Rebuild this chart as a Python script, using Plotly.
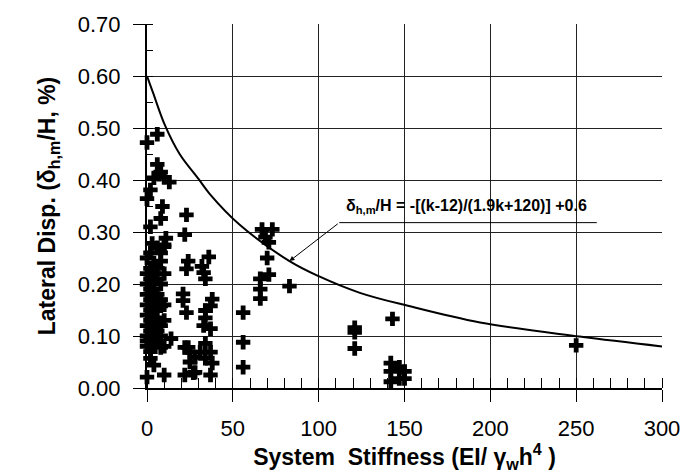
import plotly.graph_objects as go

# ---- scatter data (system stiffness k, lateral displacement %) ----
stiff = [
    6, 0, 6, 4, 7, 10, 13, 8, 2, 0, 9, 8, 23, 2, 22, 3, 11, 10,
    0, 0, 0, 0, 0, 0, 0, 0, 0, 0, 0,
    2, 2, 2, 2, 2, 2, 2, 2, 2, 2, 2,
    4, 4, 4, 4, 4, 4, 4, 4, 4, 4,
    6, 6, 6, 6, 6, 6, 6, 6,
    8, 8, 8, 8, 8, 8, 8, 8,
    10, 10, 10, 10, 10, 10, 14,
    24, 23, 32, 33, 34, 36, 21, 21, 23,
    38, 37, 34, 34, 33, 37,
    34, 31, 37, 28, 34, 38, 28, 37, 25, 25,
    24, 22, 27, 22,
    56, 56, 56,
    67, 73, 69, 71, 70, 71, 66, 66, 66, 83,
    121, 121, 121, 143,
    142, 142, 142, 147, 147, 150, 150,
    250,
]
disp = [
    0.488, 0.472, 0.43, 0.404, 0.411, 0.405, 0.396, 0.415, 0.381, 0.364, 0.349, 0.326, 0.333, 0.31, 0.295, 0.278, 0.288, 0.272,
    0.25, 0.22, 0.20, 0.18, 0.16, 0.14, 0.12, 0.10, 0.09, 0.08, 0.021,
    0.26, 0.23, 0.21, 0.19, 0.17, 0.15, 0.13, 0.11, 0.095, 0.07, 0.057,
    0.24, 0.22, 0.205, 0.19, 0.17, 0.15, 0.12, 0.10, 0.085, 0.044,
    0.27, 0.23, 0.21, 0.18, 0.16, 0.135, 0.11, 0.09,
    0.26, 0.244, 0.20, 0.17, 0.158, 0.12, 0.10, 0.078,
    0.275, 0.22, 0.16, 0.13, 0.08, 0.025, 0.095,
    0.244, 0.229, 0.234, 0.222, 0.21, 0.252, 0.181, 0.168, 0.145,
    0.171, 0.158, 0.149, 0.135, 0.12, 0.114,
    0.086, 0.069, 0.069, 0.059, 0.057, 0.048, 0.03, 0.025, 0.069, 0.05,
    0.078, 0.025, 0.029, 0.078,
    0.145, 0.088, 0.04,
    0.305, 0.305, 0.29, 0.28, 0.25, 0.218, 0.21, 0.19, 0.172, 0.196,
    0.116, 0.107, 0.076, 0.133,
    0.048, 0.032, 0.012, 0.04, 0.018, 0.032, 0.018,
    0.082,
]

# ---- envelope curve as drawn ----
curve_k = [0, 3.5, 10.5, 19, 30, 36.6, 54, 83, 100, 124, 152, 194, 252, 300]
curve_v = [0.60, 0.568, 0.505, 0.45, 0.402, 0.373, 0.314, 0.244, 0.215, 0.183, 0.158, 0.126, 0.099, 0.080]

FONT = "Liberation Sans, Arial, sans-serif"

fig = go.Figure()
fig.add_trace(go.Scatter(
    x=curve_k, y=curve_v, mode="lines", line=dict(color="black", width=2, shape="spline"),
    hoverinfo="skip", showlegend=False,
))
fig.add_trace(go.Scatter(
    x=stiff, y=disp, mode="markers",
    marker=dict(symbol="cross", size=12, color="black", line=dict(width=0)),
    cliponaxis=False, showlegend=False,
))

# leader line with arrow
fig.add_annotation(x=83, y=0.244, ax=112, ay=0.318, axref="x", ayref="y",
                   xref="x", yref="y", text="", showarrow=True,
                   arrowhead=2, arrowsize=1, arrowwidth=1, arrowcolor="black")
fig.add_shape(type="line", x0=112, x1=262, y0=0.318, y1=0.318,
              xref="x", yref="y", line=dict(color="black", width=1))
fig.add_annotation(x=115, y=0.35, xref="x", yref="y", xanchor="left", yanchor="middle",
                   text="<b>δ<sub>h,m</sub>/H = -[(k-12)/(1.9k+120)] +0.6</b>",
                   showarrow=False, font=dict(family=FONT, size=16, color="black"))

fig.update_layout(
    width=692, height=473,
    margin=dict(l=147, r=28, t=20, b=85),
    paper_bgcolor="white", plot_bgcolor="white",
    font=dict(family=FONT, color="black"),
)
fig.update_xaxes(
    range=[0, 300], tickmode="linear", tick0=0, dtick=50,
    showgrid=True, gridcolor="#222", gridwidth=1,
    showline=True, linecolor="black", linewidth=2,
    ticks="outside", ticklen=12, tickcolor="black", tickwidth=1,
    ticklabelstandoff=8,
    tickfont=dict(family=FONT, size=22, color="black"),
    minor=dict(dtick=10, tick0=0, ticks="inside", ticklen=10, tickcolor="black", tickwidth=1, showgrid=False),
    title=dict(text="<b>System  Stiffness (EI/ γ<sub>w</sub>h<sup>4</sup> )</b>",
               font=dict(family=FONT, size=23, color="black"), standoff=0),
    zeroline=False,
)
fig.update_yaxes(
    range=[0, 0.7], tickmode="linear", tick0=0, dtick=0.1, tickformat=".2f",
    showgrid=True, gridcolor="#222", gridwidth=1,
    showline=True, linecolor="black", linewidth=2,
    ticks="outside", ticklen=12, tickcolor="black", tickwidth=1,
    ticklabelstandoff=8,
    tickfont=dict(family=FONT, size=22, color="black"),
    minor=dict(dtick=0.05, tick0=0, ticks="inside", ticklen=6, tickcolor="black", tickwidth=1, showgrid=False),
    title=dict(text="<b>Lateral Disp. (δ<sub>h,m</sub>/H, %)</b>",
               font=dict(family=FONT, size=23, color="black"), standoff=16),
    zeroline=False,
)

fig.write_html("out.html")
